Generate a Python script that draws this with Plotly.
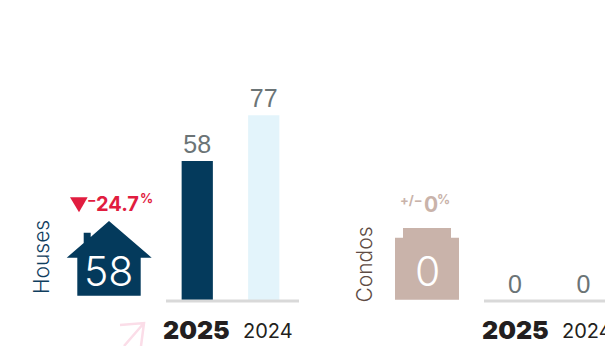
import plotly.graph_objects as go

W, H = 605, 346

# Annual sales counts by property type
years = ["2025", "2024"]
houses = [58, 77]
condos = [0, 0]
house_change = "24.7"
condo_change = "0"

NAVY = "#043A5C"
PALE = "#E3F4FB"
TAN = "#C9B3AA"
RED = "#E11D3F"
GREY = "#6B7476"
INK = "#231F20"
BODY_FONT = "Inter"
NUM_FONT = "Liberation Sans"
BASE_Y = 301
PX_PER_UNIT = 140 / 58


def px(x):
    return x / W


def py(y):
    return 1 - y / H


def poly(points, fill):
    d = "M" + " L".join(f"{px(x):.5f},{py(y):.5f}" for x, y in points) + " Z"
    return dict(type="path", xref="paper", yref="paper", path=d, fillcolor=fill,
                line=dict(width=0), layer="above")


def label(text, x, y, size, color, family=BODY_FONT, weight=400, anchor="center", angle=0):
    return dict(text=text, xref="paper", yref="paper", x=px(x), y=py(y), xanchor=anchor,
                yanchor="middle", showarrow=False, textangle=angle,
                font=dict(size=size, color=color, family=family, weight=weight))


fig = go.Figure()
num_x = [0, 1]
fig.add_bar(x=num_x, y=houses, marker=dict(color=[NAVY, PALE], line=dict(width=0)), width=31 / 66,
            text=[str(v) for v in houses], textposition="outside", cliponaxis=False,
            textfont=dict(size=25, color=GREY, family=NUM_FONT), xaxis="x", yaxis="y",
            showlegend=False, hoverinfo="skip")
fig.add_bar(x=num_x, y=condos, marker=dict(color=[TAN, "#EFE8E5"], line=dict(width=0)), width=31 / 68.5,
            text=[str(v) for v in condos], textposition="outside", cliponaxis=False,
            textfont=dict(size=25, color=GREY, family=NUM_FONT), xaxis="x2", yaxis="y",
            showlegend=False, hoverinfo="skip")

shapes = [
    # Panel baselines
    dict(type="line", xref="paper", yref="paper", x0=px(166), x1=px(299), y0=py(301), y1=py(301),
         line=dict(color="#D9D9D9", width=3), layer="above"),
    dict(type="line", xref="paper", yref="paper", x0=px(484), x1=1, y0=py(301), y1=py(301),
         line=dict(color="#D9D9D9", width=3), layer="above"),
    # House pictogram
    poly([(109, 221), (151.7, 257.7), (140.7, 257.7), (140.7, 295.7), (77.3, 295.7), (77.3, 257.7),
          (66.7, 257.7), (83.7, 243), (83.7, 232.7), (90.7, 232.7), (90.7, 237)], NAVY),
    # Condo block pictogram
    poly([(403, 228), (451, 228), (451, 237.7), (459, 237.7), (459, 299.7), (395, 299.7),
          (395, 237.7), (403, 237.7)], TAN),
    # Downward change marker
    poly([(70, 197.3), (87.7, 197.3), (79, 212.3)], RED),
    # Faint decorative arrow at the bottom edge
    dict(type="path", xref="paper", yref="paper",
         path=f"M{px(120):.5f},{py(325):.5f} L{px(144):.5f},{py(323):.5f} "
              f"L{px(141):.5f},{py(346):.5f} M{px(144):.5f},{py(323):.5f} L{px(124):.5f},{py(346):.5f}",
         line=dict(color="#FBDDE8", width=2.5), layer="above"),
]

annotations = [
    label("Houses", 41.5, 257.5, 21, "#0F3E5E", weight=300, angle=-90),
    label("Condos", 364, 264.5, 21, "#5E4B44", weight=300, angle=-90),
    label(str(houses[0]), 108.5, 271, 41, "#FFFFFF", weight=300),
    label(str(condos[0]), 427, 271, 41, "#FFFFFF", weight=300),
    label("−", 91.5, 199, 14, RED, weight=700),
    label(house_change, 93.5, 204, 20, RED, weight=700, anchor="left"),
    label("%", 146.5, 198, 13, RED, weight=700),
    label("+/−", 411.5, 200, 13, TAN, weight=700),
    label(condo_change, 430.5, 204, 21, TAN, weight=700),
    label("%", 443.5, 199, 13, TAN, weight=700),
    label(years[0], 196, 330, 25, INK, weight=900),
    label(years[1], 268, 331, 20, INK),
    label(years[0], 515, 330, 25, INK, weight=900),
    label(years[1], 560, 331, 20, INK, anchor="left"),
]

fig.update_layout(
    width=W, height=H, margin=dict(l=0, r=0, t=0, b=0), autosize=False,
    paper_bgcolor="white", plot_bgcolor="white", showlegend=False,
    shapes=shapes, annotations=annotations,
    xaxis=dict(domain=[px(166), px(299)], range=[-0.47, 1.53], showgrid=False, zeroline=False,
               showticklabels=False, ticks="", fixedrange=True),
    xaxis2=dict(domain=[px(484), 1], range=[-31 / 68.5, 121 / 68.5 - 31 / 68.5], showgrid=False,
                zeroline=False, showticklabels=False, ticks="", fixedrange=True, anchor="y"),
    yaxis=dict(domain=[py(BASE_Y), 1], range=[0, BASE_Y / PX_PER_UNIT], showgrid=False, zeroline=False,
               showticklabels=False, ticks="", fixedrange=True),
)

fig.write_html("out.html", config={"displayModeBar": False})
